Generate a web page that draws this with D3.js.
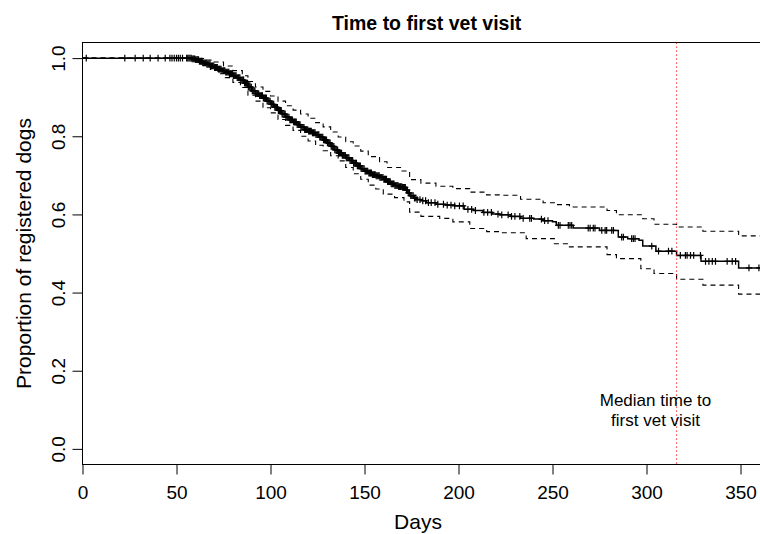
<!DOCTYPE html>
<html>
<head>
<meta charset="utf-8">
<script src="https://cdn.jsdelivr.net/npm/d3@7"></script>
<style>
  html, body { margin: 0; padding: 0; background: #fff; }
  svg { display: block; }
  text { font-family: "Liberation Sans", Arial, Helvetica, sans-serif; fill: #000; }
</style>
</head>
<body>
<svg id="chart" width="760" height="534"></svg>
<script>
// ---- Data ----
const chartTitle = "Time to first vet visit";
const xTitle = "Days";
const yTitle = "Proportion of registered dogs";
const annotationLines = ["Median time to", "first vet visit"];
const medianDay = 316;

const xTicks = [0, 50, 100, 150, 200, 250, 300, 350];
const yTicks = [0.0, 0.2, 0.4, 0.6, 0.8, 1.0];

// Kaplan-Meier estimate (step changes)
const survTime = [0, 58, 60, 62, 64, 66, 68, 70, 72, 74, 76, 78, 80, 82, 84, 86, 88, 90, 92, 94, 96, 98, 100, 102, 104, 106, 108, 110, 112, 114, 116, 118, 120, 122, 124, 126, 128, 130, 132, 134, 136, 138, 140, 142, 144, 146, 148, 150, 152, 154, 156, 158, 160, 162, 164, 166, 168, 170, 172, 173, 174, 176, 178, 180, 183, 188, 193, 198, 203, 208, 213, 218, 222, 228, 233, 240, 245, 250, 252, 261, 275, 285, 290, 296, 298, 305, 316, 329, 349];
const survProb = [1.0, 0.998, 0.996, 0.992, 0.988, 0.984, 0.98, 0.976, 0.972, 0.968, 0.964, 0.96, 0.955, 0.95, 0.944, 0.936, 0.926, 0.916, 0.909, 0.904, 0.898, 0.89, 0.882, 0.874, 0.866, 0.857, 0.849, 0.842, 0.837, 0.83, 0.823, 0.817, 0.813, 0.809, 0.804, 0.798, 0.791, 0.783, 0.774, 0.765, 0.757, 0.751, 0.745, 0.738, 0.731, 0.724, 0.717, 0.711, 0.706, 0.702, 0.699, 0.695, 0.69, 0.684, 0.678, 0.674, 0.671, 0.669, 0.662, 0.655, 0.648, 0.642, 0.638, 0.635, 0.63, 0.626, 0.624, 0.622, 0.613, 0.61, 0.605, 0.601, 0.599, 0.595, 0.59, 0.588, 0.584, 0.581, 0.572, 0.565, 0.559, 0.542, 0.538, 0.534, 0.519, 0.506, 0.495, 0.48, 0.463];

// Upper 95% confidence limit
const upperTime = [0, 62, 66, 70, 75, 80, 85, 88, 92, 96, 100, 104, 108, 112, 116, 120, 124, 128, 132, 136, 140, 144, 148, 152, 158, 162, 170, 174, 180, 188, 197, 206, 215, 222, 233, 245, 252, 259, 279, 284, 298, 304, 316, 330, 349];
const upperVal = [1.0, 0.999, 0.995, 0.99, 0.98, 0.968, 0.955, 0.94, 0.926, 0.915, 0.903, 0.89, 0.878, 0.867, 0.857, 0.846, 0.835, 0.824, 0.811, 0.798, 0.786, 0.775, 0.762, 0.748, 0.735, 0.72, 0.711, 0.689, 0.68, 0.672, 0.666, 0.657, 0.65, 0.649, 0.639, 0.63, 0.625, 0.619, 0.61, 0.599, 0.589, 0.575, 0.568, 0.557, 0.545];

// Lower 95% confidence limit
const lowerTime = [0, 58, 60, 64, 68, 72, 76, 80, 84, 88, 92, 96, 100, 104, 108, 112, 116, 120, 124, 128, 132, 136, 140, 144, 148, 152, 156, 160, 166, 171, 174, 180, 190, 197, 206, 215, 222, 236, 251, 259, 279, 284, 297, 304, 316, 330, 349];
const lowerVal = [1.0, 0.996, 0.99, 0.981, 0.971, 0.96, 0.95, 0.938, 0.925, 0.905, 0.89, 0.873, 0.86, 0.843, 0.828, 0.815, 0.8, 0.788, 0.777, 0.763, 0.75, 0.737, 0.72, 0.704, 0.69, 0.675, 0.665, 0.652, 0.643, 0.632, 0.606, 0.595, 0.59, 0.581, 0.564, 0.556, 0.553, 0.538, 0.525, 0.517, 0.497, 0.487, 0.461, 0.449, 0.434, 0.419, 0.396];

// Censoring times (+ marks): sparse early, very dense 58-178 days, sparse later
const censorEarly = [2, 22.5, 28, 32.3, 36, 40.2, 44, 46.5, 47.6, 48.8, 50, 51, 52, 53.2, 55.4, 56, 56.6, 57.2, 57.8];
const censorDense = [58.3, 58.8, 59.3, 59.7, 60.2, 60.8, 61.3, 61.7, 62.2, 62.8, 63.3, 63.7, 64.2, 64.7, 65.3, 65.8, 66.2, 66.7, 67.3, 67.8, 68.2, 68.7, 69.2, 69.8, 70.3, 70.7, 71.2, 71.7, 72.3, 72.8, 73.2, 73.7, 74.2, 74.8, 75.3, 75.7, 76.2, 76.7, 77.3, 77.8, 78.2, 78.7, 79.2, 79.8, 80.3, 80.7, 81.2, 81.7, 82.3, 82.8, 83.2, 83.7, 84.2, 84.8, 85.3, 85.7, 86.2, 86.7, 87.3, 87.8, 88.2, 88.7, 89.2, 89.8, 90.3, 90.7, 91.2, 91.7, 92.3, 92.8, 93.2, 93.7, 94.2, 94.8, 95.3, 95.7, 96.2, 96.7, 97.3, 97.8, 98.2, 98.7, 99.2, 99.8, 100.3, 100.7, 101.2, 101.7, 102.3, 102.8, 103.2, 103.7, 104.2, 104.8, 105.3, 105.7, 106.2, 106.7, 107.3, 107.8, 108.2, 108.7, 109.2, 109.8, 110.3, 110.7, 111.2, 111.7, 112.3, 112.8, 113.2, 113.7, 114.2, 114.8, 115.3, 115.7, 116.2, 116.7, 117.3, 117.8, 118.2, 118.7, 119.2, 119.8, 120.3, 120.7, 121.2, 121.7, 122.3, 122.8, 123.2, 123.7, 124.2, 124.8, 125.3, 125.7, 126.2, 126.7, 127.3, 127.8, 128.2, 128.7, 129.2, 129.8, 130.3, 130.7, 131.2, 131.7, 132.3, 132.8, 133.2, 133.7, 134.2, 134.8, 135.3, 135.7, 136.2, 136.7, 137.3, 137.8, 138.2, 138.7, 139.2, 139.8, 140.3, 140.7, 141.2, 141.7, 142.3, 142.8, 143.2, 143.7, 144.2, 144.8, 145.3, 145.7, 146.2, 146.7, 147.3, 147.8, 148.2, 148.7, 149.2, 149.8, 150.3, 150.7, 151.2, 151.7, 152.3, 152.8, 153.2, 153.7, 154.2, 154.8, 155.3, 155.7, 156.2, 156.7, 157.3, 157.8, 158.2, 158.7, 159.2, 159.8, 160.3, 160.7, 161.2, 161.7, 162.3, 162.8, 163.2, 163.7, 164.2, 164.8, 165.3, 165.7, 166.2, 166.7, 167.3, 167.8, 168.2, 168.7, 169.2, 169.8, 170.3, 170.7, 171.2, 171.7, 172.3, 172.8, 173.3, 173.9, 174.6, 175.2, 175.9, 176.6, 177.3, 178];
const censorLate = [179.5, 181, 182.5, 184, 185.5, 187.5, 189, 192, 194, 196, 198, 200.5, 202.5, 205, 207, 209, 213.5, 215.5, 217.5, 221, 223, 226.4, 228.2, 230, 232.6, 234.4, 237.9, 238.8, 244.1, 245.8, 247.6, 253.1, 254, 258.4, 259.3, 260.2, 269, 270, 271.7, 272.6, 276.2, 278, 278.8, 281.5, 282.4, 286.8, 287.7, 292.1, 293, 293.9, 302.8, 306.4, 311.7, 313.5, 318, 320.7, 321.6, 323.4, 325.1, 328.7, 331.4, 333.2, 335, 336.7, 342.9, 345.6, 347.4, 354.5, 359.8];
const censorTimes = censorEarly.concat(censorDense, censorLate);

// ---- Layout ----
const plotLeft = 82.5, plotTop = 42.5, plotBottom = 464.5, plotRight = 768.7;
const xMax = 365;

const x = d3.scaleLinear().domain([0, xMax]).range([plotLeft, plotRight]);
const y = d3.scaleLinear().domain([-0.04, 1.04]).range([plotBottom, plotTop]);

const svg = d3.select("#chart");

svg.append("defs").append("clipPath").attr("id", "plotclip")
  .append("rect").attr("x", plotLeft).attr("y", plotTop)
  .attr("width", plotRight - plotLeft).attr("height", plotBottom - plotTop);

const plot = svg.append("g").attr("clip-path", "url(#plotclip)");

function stepSeries(times, vals) {
  const pts = times.map((t, i) => [t, vals[i]]);
  pts.push([xMax, vals[vals.length - 1]]);
  return pts;
}
const stepLine = d3.line().x(d => x(d[0])).y(d => y(d[1])).curve(d3.curveStepAfter);

// confidence limits
plot.append("path").attr("d", stepLine(stepSeries(upperTime, upperVal)))
  .attr("fill", "none").attr("stroke", "#000").attr("stroke-width", 1.1)
  .attr("stroke-dasharray", "5,4");
plot.append("path").attr("d", stepLine(stepSeries(lowerTime, lowerVal)))
  .attr("fill", "none").attr("stroke", "#000").attr("stroke-width", 1.1)
  .attr("stroke-dasharray", "5,4");

// survival curve
plot.append("path").attr("d", stepLine(stepSeries(survTime, survProb)))
  .attr("fill", "none").attr("stroke", "#000").attr("stroke-width", 1.5);

// censor marks
const bis = d3.bisector(d => d).right;
function survAt(t) {
  const i = bis(survTime, t) - 1;
  return survProb[Math.max(0, i)];
}
const marks = plot.append("g").attr("stroke", "#000").attr("stroke-width", 1.2);
censorTimes.forEach(t => {
  const cx = x(t), cy = y(survAt(t));
  marks.append("line").attr("x1", cx).attr("x2", cx).attr("y1", cy - 3.4).attr("y2", cy + 3.4);
  marks.append("line").attr("x1", cx - 3).attr("x2", cx + 3).attr("y1", cy).attr("y2", cy);
});

// median line
plot.append("line")
  .attr("x1", x(medianDay)).attr("x2", x(medianDay))
  .attr("y1", plotTop).attr("y2", plotBottom)
  .attr("stroke", "#ff2020").attr("stroke-width", 1.1)
  .attr("stroke-dasharray", "1.3,2.7");

// annotation
const ann = svg.append("text")
  .attr("text-anchor", "middle")
  .style("font-size", "17px");
annotationLines.forEach((s, i) => {
  ann.append("tspan").attr("x", 655.5).attr("y", 406 + i * 20).text(s);
});

// box
svg.append("rect").attr("x", plotLeft).attr("y", plotTop)
  .attr("width", plotRight - plotLeft).attr("height", plotBottom - plotTop)
  .attr("fill", "none").attr("stroke", "#000").attr("stroke-width", 1);

// axes
const xAxis = d3.axisBottom(x).tickValues(xTicks).tickSize(10).tickPadding(12)
  .tickFormat(d3.format("d"));
const gx = svg.append("g").attr("transform", `translate(0,${plotBottom})`).call(xAxis);
gx.select(".domain").attr("d", `M${x(xTicks[0])},0H${x(xTicks[xTicks.length-1])}`);
gx.selectAll(".tick text").attr("dy", null).attr("y", 34.5)
  .style("font-size", "19px").style("font-family", '"Liberation Sans", Arial, sans-serif');

const yAxis = d3.axisLeft(y).tickValues(yTicks).tickSize(10).tickFormat(d3.format(".1f"));
const gy = svg.append("g").attr("transform", `translate(${plotLeft},0)`).call(yAxis);
gy.select(".domain").attr("d", `M0,${y(yTicks[0])}V${y(yTicks[yTicks.length-1])}`);
gy.selectAll(".tick text")
  .attr("dy", null).attr("x", 0).attr("y", -17.8)
  .attr("transform", "rotate(-90)")
  .attr("text-anchor", "middle")
  .style("font-size", "19px").style("font-family", '"Liberation Sans", Arial, sans-serif');
svg.selectAll(".tick line").attr("stroke", "#000");
svg.selectAll(".domain").attr("stroke", "#000");

// titles
svg.append("text").attr("x", 426.7).attr("y", 30)
  .attr("text-anchor", "middle").style("font-size", "19.5px").style("font-weight", "bold")
  .text(chartTitle);
svg.append("text").attr("x", 418).attr("y", 528.7)
  .attr("text-anchor", "middle").style("font-size", "21px")
  .text(xTitle);
svg.append("text").attr("transform", `translate(30.5,${(plotTop + plotBottom) / 2}) rotate(-90)`)
  .attr("text-anchor", "middle").style("font-size", "21px")
  .text(yTitle);
</script>
</body>
</html>
